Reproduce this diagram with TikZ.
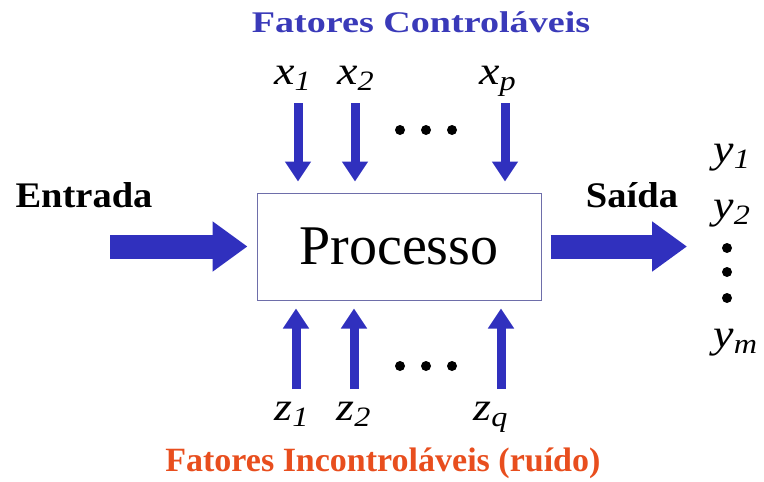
\documentclass[tikz,border=0pt]{standalone}
\usepackage{fontspec}
\setmainfont{Liberation Serif}
\usetikzlibrary{arrows.meta}

\definecolor{ctrlblue}{RGB}{58,58,185}
\definecolor{noisered}{RGB}{232,78,30}
\definecolor{flowblue}{RGB}{48,48,190}
\definecolor{boxline}{RGB}{110,110,170}
\tikzset{
  title/.style={font=\fontsize{15}{15}\selectfont\bfseries,anchor=base,inner sep=0pt},
  side/.style={font=\fontsize{18}{18}\selectfont\bfseries,anchor=base,inner sep=0pt,xscale=1.07},
  var/.style={font=\fontsize{20}{20}\selectfont\itshape,anchor=base,inner sep=0pt,xscale=1.15},
  feed/.style={draw=flowblue,line width=4.5pt,-{Triangle[width=12.5pt,length=10pt]}},
  flow/.style={draw=flowblue,line width=12pt,-{Triangle[width=24pt,length=17.5pt]}},
  dot/.style={circle,fill=black,inner sep=0pt,minimum size=5pt},
}

\begin{document}
\begin{tikzpicture}[x=0.5pt,y=-0.5pt]
  \useasboundingbox (0,0) rectangle (764,481);

  % the process block
  \node [draw=boxline,line width=0.5pt,minimum width=142pt,minimum height=53.5pt,
         font=\fontsize{28}{28}\selectfont] (box) at (399,246.5) {Processo};

  % controllable factors on top
  \node [title,xscale=1.27,text=ctrlblue] (ctrl) at (421,33) {Fatores Controláveis};
  \foreach \n/\ax/\lx in {1/298/293, 2/355/356, p/505/498}
  {
    \node [var] (x\n) at (\lx,84) {x\textsubscript{\n}};
    \coordinate (xa\n) at (\ax,103);
    \draw [feed,shorten >=5.5pt] (xa\n) -- (xa\n |- box.north);
  }
  \foreach \i/\x in {1/400,2/426,3/452}
    \node [dot] (xd\i) at (\x,130) {};

  % uncontrollable factors below
  \foreach \n/\ax/\lx in {1/296/292, 2/354/354, q/501/491}
  {
    \node [var] (z\n) at (\lx,420) {z\textsubscript{\n}};
    \coordinate (za\n) at (\ax,389);
    \draw [feed,shorten >=4pt] (za\n) -- (za\n |- box.south);
  }
  \foreach \i/\x in {1/400,2/426,3/452}
    \node [dot] (zd\i) at (\x,366) {};
  \node [title,font=\fontsize{17}{17}\selectfont\bfseries,anchor=base west,text=noisered]
    (noise) at (165,471) {Fatores Incontroláveis (ruído)};

  % input and output
  \node [side] (inlbl) at (84,207) {Entrada};
  \coordinate (in) at (110,246.5);
  \draw [flow,shorten >=4.5pt] (in) -- (box.west);

  \node [side] (outlbl) at (632,207) {Saída};
  \coordinate (out) at (687,246.5);
  \draw [flow,shorten <=4.5pt] (box.east) -- (out);

  % responses
  \node [var,anchor=base west] (y1) at (713,162) {y\textsubscript{1}};
  \node [var,anchor=base west] (y2) at (713,218) {y\textsubscript{2}};
  \foreach \i/\y in {1/248,2/272,3/298}
    \node [dot] (yd\i) at (727,\y) {};
  \node [var,anchor=base west] (ym) at (713,347) {y\textsubscript{m}};
\end{tikzpicture}
\end{document}
